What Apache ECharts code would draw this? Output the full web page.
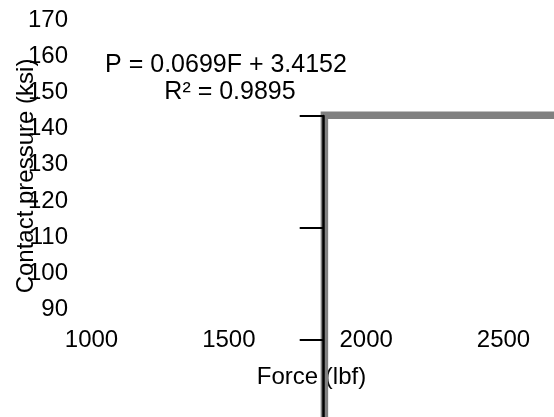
<!DOCTYPE html>
<html>
<head>
<meta charset="utf-8">
<script src="https://cdn.jsdelivr.net/npm/echarts@6/dist/echarts.min.js"></script>
<style>html,body{margin:0;padding:0;background:#fff}#c{width:554px;height:417px}</style>
</head>
<body>
<div id="c"></div>
<script>
// Data
var xTicks = [1000, 1500, 2000, 2500];
var yTicks = [90, 100, 110, 120, 130, 140, 150, 160, 170];
var lineForce = [1848, 1848, 2950];      // Force (lbf)
var linePressure = [55, 143.75, 143.75]; // Contact pressure (ksi)
var equationText = 'P = 0.0699F + 3.4152';
var r2Text = 'R² = 0.9895';

var FONT = "'Liberation Sans', Arial, sans-serif";
var FS = 24;

var seriesData = lineForce.map(function (f, i) { return [f, linePressure[i]]; });

var chart = echarts.init(document.getElementById('c'), null, { renderer: 'canvas' });
chart.setOption({
  animation: false,
  backgroundColor: '#fff',
  grid: [
    { left: 91.5, top: 20.7, width: 549.3, height: 288.3, outerBoundsMode: 'none', containLabel: false },
    { left: 323.7, top: 116, width: 300, height: 336, outerBoundsMode: 'none', containLabel: false }
  ],
  xAxis: [
    {
      gridIndex: 0, type: 'value',
      min: 1000, max: 3000, interval: 500,
      axisLine: { show: false }, axisTick: { show: false }, splitLine: { show: false },
      axisLabel: {
        color: '#000', fontFamily: FONT, fontSize: FS, margin: 19,
        formatter: function (v) { return xTicks.indexOf(v) >= 0 ? String(v) : ''; }
      }
    },
    {
      gridIndex: 1, type: 'value', min: 0, max: 1, show: false
    }
  ],
  yAxis: [
    {
      gridIndex: 0, type: 'value',
      min: yTicks[0], max: yTicks[yTicks.length - 1], interval: 10,
      axisLine: { show: false }, axisTick: { show: false }, splitLine: { show: false },
      axisLabel: { color: '#000', fontFamily: FONT, fontSize: FS, margin: 23.5 }
    },
    {
      gridIndex: 1, type: 'value', min: 0, max: 3, interval: 1, inverse: true, z: 10,
      axisLine: { show: true, onZero: false, lineStyle: { color: '#000', width: 2.5 } },
      axisTick: { show: true, length: 24, lineStyle: { color: '#000', width: 2 } },
      axisLabel: { show: false },
      splitLine: { show: false }
    }
  ],
  series: [
    {
      type: 'line',
      xAxisIndex: 0, yAxisIndex: 0,
      data: seriesData,
      clip: false,
      showSymbol: false,
      symbol: 'none',
      z: 0,
      lineStyle: { color: '#808080', width: 7.5, join: 'miter', cap: 'butt' }
    }
  ],
  graphic: [
    {
      type: 'text', x: 226, y: 65,
      style: { text: equationText, font: '25px ' + FONT, fill: '#000', textAlign: 'center', textVerticalAlign: 'middle' }
    },
    {
      type: 'text', x: 230, y: 92,
      style: { text: r2Text, font: '25px ' + FONT, fill: '#000', textAlign: 'center', textVerticalAlign: 'middle' }
    },
    {
      type: 'text', x: 26, y: 176, rotation: Math.PI / 2,
      style: { text: 'Contact pressure (ksi)', font: FS + 'px ' + FONT, fill: '#000', textAlign: 'center', textVerticalAlign: 'middle' }
    },
    {
      type: 'text', x: 311.5, y: 377,
      style: { text: 'Force (lbf)', font: FS + 'px ' + FONT, fill: '#000', textAlign: 'center', textVerticalAlign: 'middle' }
    }
  ]
});
</script>
</body>
</html>
